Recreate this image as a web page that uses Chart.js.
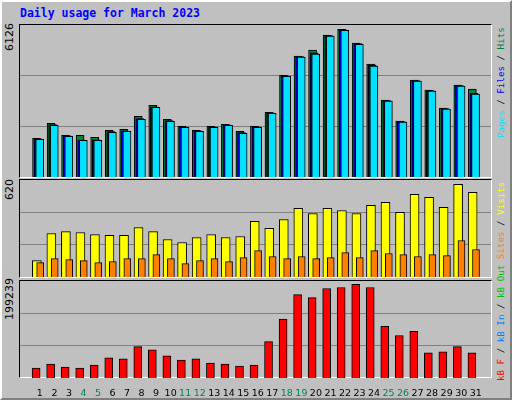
<!DOCTYPE html>
<html><head><meta charset="utf-8">
<script src="https://cdn.jsdelivr.net/npm/chart.js@4"></script>
<style>
body{margin:0;width:512px;height:400px;overflow:hidden;background:#c0c0c0;font-family:"DejaVu Sans",sans-serif}
#frame{position:absolute;left:0;top:0;width:508px;height:396px;border-left:2px solid #fff;border-top:2px solid #fff;border-right:2px solid #808080;border-bottom:2px solid #808080}
#title{position:absolute;left:20px;top:6px;font:bold 11.5px "DejaVu Sans Mono",monospace;color:#0000ff}
.box{position:absolute;border-left:1px solid #000;border-top:1px solid #000;border-right:1px solid #fff;border-bottom:1px solid #fff}
.cv{position:absolute}
.rot{position:absolute;transform-origin:0 0;transform:rotate(-90deg);white-space:nowrap;font-size:11px}
.rl{font:9.2px "DejaVu Sans Mono",monospace}
</style></head><body>
<div id="frame"></div>
<div id="title">Daily usage for March 2023</div>
<div class="box" style="left:19px;top:24px;width:471px;height:152px"></div>
<div class="box" style="left:19px;top:179px;width:471px;height:97px"></div>
<div class="box" style="left:19px;top:280px;width:471px;height:96px"></div>
<div class="cv" style="left:20px;top:25px;width:471px;height:152px"><canvas id="c1"></canvas></div>
<div class="cv" style="left:20px;top:180px;width:471px;height:97px"><canvas id="c2"></canvas></div>
<div class="cv" style="left:20px;top:281px;width:471px;height:116px"><canvas id="c3"></canvas></div>
<div class="rot" style="left:3px;top:51px">6126</div>
<div class="rot" style="left:3px;top:200px">620</div>
<div class="rot" style="left:3px;top:320px">199239</div>
<div class="rot rl" style="left:495px;top:138px"><span style="color:#00e0ff">Pages</span> / <span style="color:#0000ff">Files</span> / <span style="color:#008040">Hits</span></div>
<div class="rot rl" style="left:495px;top:381px"><span style="color:#ff0000">kB F</span> / <span style="color:#0080ff">kB In</span> / <span style="color:#00c000">kB Out</span> <span style="color:#ff8000">Sites</span> / <span style="color:#ffff00">Visits</span></div>
<script>
const days = Array.from({length:31},(_,i)=>i+1);
const hits  = [1605,2227,1730,1730,1647,1937,1979,2518,2974,2393,2103,1937,2103,2186,1896,2103,2684,4219,5019,5268,5890,6126,5558,4687,3194,2323,4024,3609,2862,3816,3650];
const files = [1580,2170,1705,1535,1540,1880,1920,2420,2910,2340,2080,1915,2080,2165,1840,2080,2660,4195,4995,5150,5870,6100,5530,4640,3170,2300,4000,3585,2840,3795,3470];
const pages = [1564,2144,1688,1522,1522,1854,1896,2393,2891,2310,2062,1896,2062,2144,1813,2062,2642,4177,4978,5102,5849,6085,5504,4604,3152,2281,3982,3567,2821,3775,3443];
const visits= [110,291,304,298,284,278,278,331,304,251,231,264,284,264,271,372,325,385,459,425,459,445,425,479,499,432,553,533,466,620,566];
const sites = [96,123,116,110,96,103,123,123,150,123,90,110,123,103,130,177,137,123,137,123,130,163,130,177,157,150,137,150,143,244,184];
const kbytes= [21011,29705,23184,21011,27531,42746,40572,66654,60134,47093,38399,40572,31878,29705,25358,27531,77522,125339,177503,170982,190544,192717,199239,192717,110124,90563,99257,53613,55787,66654,53613];
const weekend=[4,5,11,12,18,19,25,26];
const XMIN=0.154, XMAX=31.53;
function ds(vals,off,color,w,order){return {data:vals.map((v,i)=>({x:days[i]+off,y:v})),backgroundColor:color,borderColor:'#000',borderWidth:1,borderSkipped:'bottom',barThickness:w,grouped:false,order:order};}
function yax(max){return {min:0,max:max,grid:{color:'#808080',drawTicks:false,lineWidth:1},border:{display:false},ticks:{display:false},
  afterBuildTicks:a=>{a.ticks=[{value:max/3},{value:2*max/3}];},afterFit:a=>{a.width=0;}};}
function xax(show){return {type:'linear',min:XMIN,max:XMAX,display:show,grid:{display:false},border:{display:false},
  afterBuildTicks:a=>{a.ticks=days.map(d=>({value:d}));},
  afterFit:a=>{if(show)a.height=19;},
  ticks:{autoSkip:false,maxRotation:0,padding:2,color:c=>weekend.includes(c.tick.value)?'#008060':'#000',font:{family:'DejaVu Sans',size:9.5},callback:v=>String(v)}};}
const base={responsive:true,maintainAspectRatio:false,animation:false,layout:{padding:0},plugins:{legend:{display:false},tooltip:{enabled:false}}};
new Chart(c1,{type:'bar',data:{datasets:[ds(hits,-0.23,'#008040',8,3),ds(files,-0.12,'#0000ff',8,2),ds(pages,-0.01,'#00e0ff',8,1)]},
  options:{...base,scales:{x:xax(false),y:yax(6304)}}});
new Chart(c2,{type:'bar',data:{datasets:[ds(visits,-0.21,'#ffff00',9,2),ds(sites,0.02,'#ff8000',7,1)]},
  options:{...base,scales:{x:xax(false),y:yax(649)}}});
new Chart(c3,{type:'bar',data:{datasets:[ds(kbytes,-0.26,'#ff0000',8,1)]},
  options:{...base,scales:{x:xax(true),y:yax(206484)}}});
</script></body></html>
